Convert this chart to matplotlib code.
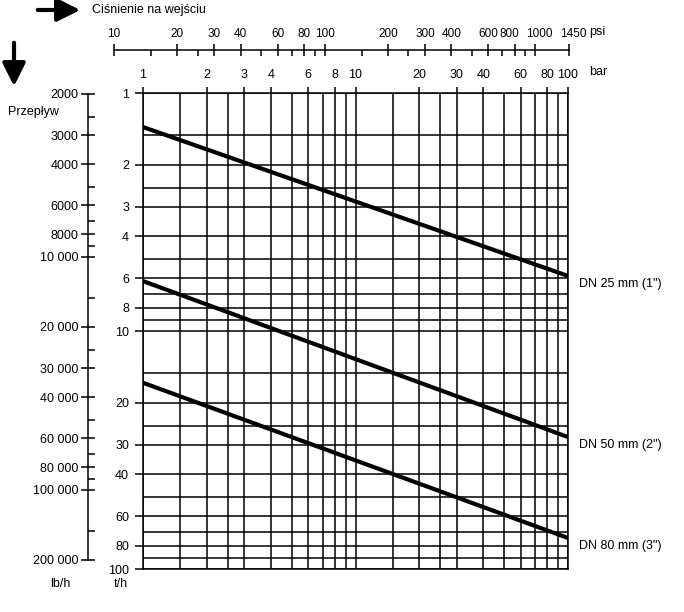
import matplotlib
matplotlib.use("Agg")
import matplotlib.pyplot as plt
from matplotlib.patches import FancyArrowPatch
from matplotlib.ticker import NullFormatter
from matplotlib.transforms import ScaledTranslation

plt.rcParams['font.family'] = ['Liberation Sans', 'DejaVu Sans']
plt.rcParams['font.size'] = 9

# ---------------------- data -----------------------
# inlet pressure (bar) at both ends of the lines
pressure_bar = [1, 100]
# flow (t/h) read at 1 bar and 100 bar
flow_dn25 = [1.39, 5.87]
flow_dn50 = [6.17, 27.9]
flow_dn80 = [16.5, 74.1]
line_names = ['DN 25 mm (1")', 'DN 50 mm (2")', 'DN 80 mm (3")']

bar_labels = [1, 2, 3, 4, 6, 8, 10, 20, 30, 40, 60, 80, 100]
bar_grid = [1.5, 2.5, 5, 7, 9, 15, 25, 50, 70, 90]
th_labels = [1, 2, 3, 4, 6, 8, 10, 20, 30, 40, 60, 80, 100]
th_grid = [1.5, 2.5, 5, 7, 9, 15, 25, 50, 70, 90]

psi_labels = [10, 20, 30, 40, 60, 80, 100, 200, 300, 400, 600, 800, 1000, 1450]
psi_minor = [15, 25, 50, 70, 90, 150, 250, 500, 700, 900]

lbh_labels = [2000, 3000, 4000, 6000, 8000, 10000, 20000, 30000, 40000,
              60000, 80000, 100000, 200000]
lbh_text = ['2000', '3000', '4000', '6000', '8000', '10 000', '20 000', '30 000',
            '40 000', '60 000', '80 000', '100 000', '200 000']
lbh_minor = [2500, 5000, 7000, 9000, 15000, 25000, 50000, 70000, 90000, 150000]
# ----------------------------------------------------

W, H = 684, 612
fig = plt.figure(figsize=(W / 100, H / 100), dpi=100)


def rect(x0, y_top, x1, y_bot):
    # pixel box (origin top-left) -> figure fraction
    return [x0 / W, 1 - y_bot / H, (x1 - x0) / W, (y_bot - y_top) / H]


lw = 1.1

# ----------------------- main grid -------------------------------
ax = fig.add_axes(rect(143, 93, 568, 569))
ax.set_xscale('log')
ax.set_yscale('log')
ax.set_xlim(1, 100)
ax.set_ylim(100, 1)

ax.set_xticks(bar_labels, labels=[str(v) for v in bar_labels])
ax.set_xticks(bar_grid, minor=True)
ax.set_yticks(th_labels, labels=[str(v) for v in th_labels])
ax.set_yticks(th_grid, minor=True)
ax.xaxis.set_minor_formatter(NullFormatter())
ax.yaxis.set_minor_formatter(NullFormatter())
ax.xaxis.tick_top()
ax.tick_params(axis='x', which='major', direction='out', length=4, width=lw, pad=5)
ax.tick_params(axis='y', which='major', direction='out', length=6, width=lw, pad=4)
ax.tick_params(which='minor', length=0)
ax.grid(True, which='both', color='black', linewidth=lw)
for s in ax.spines.values():
    s.set_linewidth(lw)

ax.plot(pressure_bar, flow_dn25, color='black', linewidth=3, solid_capstyle='butt')
ax.plot(pressure_bar, flow_dn50, color='black', linewidth=3, solid_capstyle='butt')
ax.plot(pressure_bar, flow_dn80, color='black', linewidth=3, solid_capstyle='butt')

for name, flows in zip(line_names, [flow_dn25, flow_dn50, flow_dn80]):
    ax.annotate(name, xy=(pressure_bar[-1], flows[-1]), xytext=(8, -6),
                textcoords='offset points', va='center', ha='left',
                annotation_clip=False)

# ----------------------- psi scale -------------------------------
ax3 = fig.add_axes(rect(114, 50, 569, 50.1))
ax3.set_xscale('log')
ax3.set_xlim(10, 1450)
ax3.patch.set_visible(False)
for k in ['left', 'right', 'bottom']:
    ax3.spines[k].set_visible(False)
ax3.spines['top'].set_linewidth(lw)
ax3.xaxis.tick_top()
ax3.set_xticks(psi_labels, labels=[str(v) for v in psi_labels])
ax3.set_xticks(psi_minor, minor=True)
ax3.xaxis.set_minor_formatter(NullFormatter())
ax3.tick_params(axis='x', which='major', direction='inout', length=8, width=lw,
                pad=3, labelsize=8.5)
ax3.tick_params(axis='x', which='minor', direction='in', length=4, width=lw)
ax3.set_yticks([])
# nudge the crowded labels at the right end apart (pixels)
nudge = {800: -5, 1000: 4, 1450: 4}
for v, lab in zip(psi_labels, ax3.xaxis.get_majorticklabels()):
    if v in nudge:
        lab.set_transform(lab.get_transform()
                          + ScaledTranslation(nudge[v] / 100, 0, fig.dpi_scale_trans))

# ----------------------- lb/h scale ------------------------------
ax2 = fig.add_axes(rect(88, 94, 88.1, 560))
ax2.set_yscale('log')
ax2.set_ylim(200000, 2000)
ax2.patch.set_visible(False)
for k in ['top', 'right', 'bottom']:
    ax2.spines[k].set_visible(False)
ax2.spines['left'].set_linewidth(lw)
ax2.set_xticks([])
ax2.set_yticks(lbh_labels, labels=lbh_text)
ax2.set_yticks(lbh_minor, minor=True)
ax2.yaxis.set_minor_formatter(NullFormatter())
ax2.tick_params(axis='y', which='major', direction='inout', length=10, width=lw, pad=2)
ax2.tick_params(axis='y', which='minor', direction='in', length=5, width=lw)

# ----------------------- labels and arrows -----------------------
fig.text(92 / W, 1 - 10 / H, 'Ciśnienie na wejściu', ha='left', va='center')
fig.text(8 / W, 1 - 112 / H, 'Przepływ', ha='left', va='center')
fig.text(589 / W, 1 - 72 / H, 'bar', ha='left', va='center')
fig.text(589 / W, 1 - 32 / H, 'psi', ha='left', va='center')
fig.text(121 / W, 1 - 584 / H, 't/h', ha='center', va='center')
fig.text(60 / W, 1 - 584 / H, 'lb/h', ha='center', va='center')

head = '-|>,head_length=1.0,head_width=0.5'
fig.add_artist(FancyArrowPatch((35 / W, 1 - 10 / H), (83 / W, 1 - 10 / H),
                               transform=fig.transFigure, arrowstyle=head,
                               color='black', linewidth=3, mutation_scale=14))
fig.add_artist(FancyArrowPatch((14 / W, 1 - 40 / H), (14 / W, 1 - 89 / H),
                               transform=fig.transFigure, arrowstyle=head,
                               color='black', linewidth=3, mutation_scale=14))

fig.savefig('out.png', dpi=100)
